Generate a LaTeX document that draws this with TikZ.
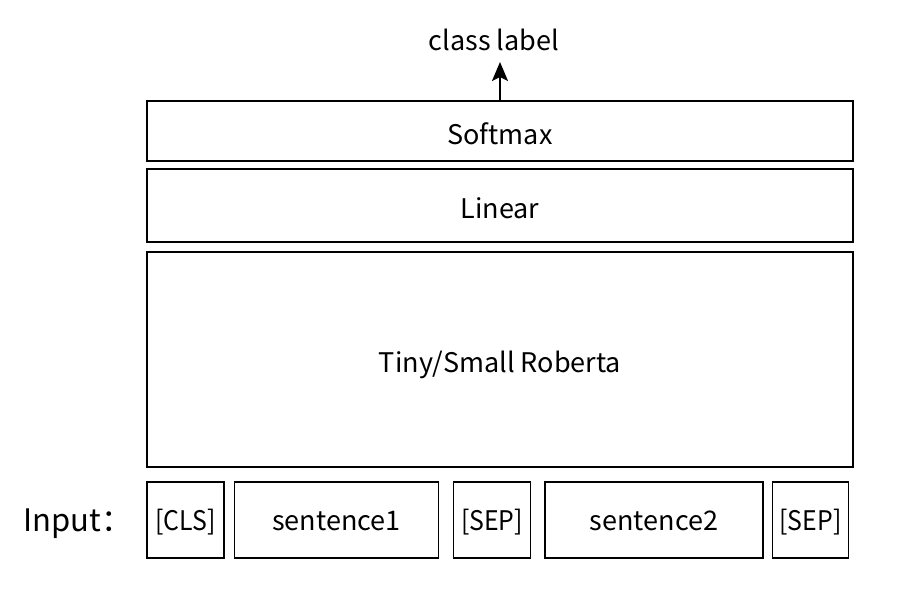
\documentclass[tikz,border=0pt]{standalone}
\usepackage{fontspec}
\setmainfont{Noto Sans CJK SC}
\usetikzlibrary{arrows.meta}
\begin{document}
\begin{tikzpicture}[x=1pt,y=1pt,
  layer/.style={draw,line width=1.8pt,inner sep=0pt,minimum width=706pt,
    text height=27pt,text depth=0pt,font=\fontsize{27}{30}\selectfont},
  tok/.style={draw,line width=1.8pt,inner sep=0pt,minimum height=76pt,
    text height=20pt,text depth=0pt,font=\fontsize{27}{30}\selectfont}]
\useasboundingbox (0,0) rectangle (914,598);
% layers (y = 598 - pixel y)
\node[layer,minimum height=60pt] (soft) at (500,467) {Softmax};
\node[layer,minimum height=73pt] (lin) at (500,392.5) {Linear};
\node[layer,minimum height=215pt] (rob) at (500,238.5) {Tiny/Small Roberta};
% tokens
\node[tok,minimum width=77pt] (cls) at (185.5,78) {\scalebox{0.92}[1]{[CLS]}};
\node[tok,minimum width=204pt] (s1) at (336.5,78) {sentence1};
\node[tok,minimum width=77pt] (sep1) at (492,78) {\scalebox{0.92}[1]{[SEP]}};
\node[tok,minimum width=218pt] (s2) at (654,78) {sentence2};
\node[tok,minimum width=76pt] (sep2) at (810.5,78) {\scalebox{0.92}[1]{[SEP]}};
\node[font=\fontsize{31}{34}\selectfont,inner sep=0pt,anchor=base] (inp) at (78,67) {Input：};
% output
\node[font=\fontsize{27}{30}\selectfont,inner sep=0pt,anchor=base] (cl) at (494,547) {class label};
\coordinate (tip) at (500,536);
\draw[line width=2pt,-{Stealth[length=19pt,width=16pt,inset=4pt]}] (soft.north -| tip) -- (tip);
\end{tikzpicture}
\end{document}
